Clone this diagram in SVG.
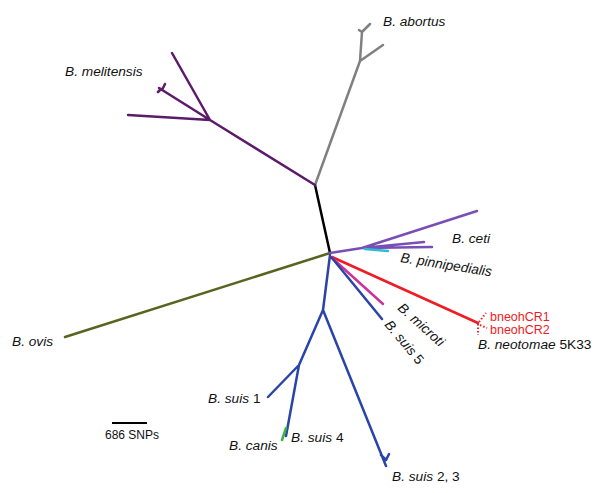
<svg xmlns="http://www.w3.org/2000/svg" width="600" height="493" viewBox="0 0 600 493">
<style>
.b{fill:none;stroke-width:2.5;stroke-linecap:round;stroke-linejoin:round}
.t{font-family:"Liberation Sans",Arial,sans-serif;font-size:13.7px;fill:#111}
.i{font-style:italic}
.r{fill:#ee1c24;font-size:12.5px}
</style>
<rect width="600" height="493" fill="#fff"/>
<g id="connectors">
<path class="b" stroke="#000" d="M315,185 L330,253"/>
<path class="b" stroke="#808080" d="M315,185 L360,61 L362,32 M360,61 L383,45 M362,32 L370,24 M362,32 L359,30"/>
<path class="b" stroke="#5c1a6b" d="M315,185 L210,120 L172,53 M210,120 L128,115 M210,120 L159,88 M162,90 L165,84 M161,89 L158,92"/>
<path class="b" stroke="#5a6420" d="M330,253 L65,337"/>
<path class="b" stroke="#7a4fb5" d="M330,253 L362,248 L477,211 M362,248 L424,242 M362,248 L432,247"/>
<path class="b" stroke="#2bbcd0" d="M365,249 L388,251"/>
<path class="b" stroke="#ee1c24" d="M332,257 L478,323"/>
<path fill="none" stroke="#ee1c24" stroke-width="2" stroke-dasharray="1.5,2" d="M479,322 L486,313 M478,324 L478,335 M480,325 L487,328"/>
<path class="b" stroke="#cc3399" d="M332,258 L383,304"/>
<path class="b" stroke="#2a44a8" d="M332,258 L382,319 M330,255 L323,310 L386,466 M381,455 L386,460 L389,454 M323,310 L299,365 L268,397 M299,365 L286,436"/>
<path class="b" stroke="#3cb43c" d="M286,428 L282,440"/>
<path stroke="#000" stroke-width="2" d="M112,423 L147,423"/>
</g>
<g id="labels">
<text class="t i" x="383" y="26">B. abortus</text>
<text class="t i" x="65" y="76">B. melitensis</text>
<text class="t i" x="452" y="243">B. ceti</text>
<text class="t i" transform="translate(400,262) rotate(9)">B. pinnipedialis</text>
<text class="t i" transform="translate(397,309) rotate(42)">B. microti</text>
<text class="t i" transform="translate(384,325) rotate(50)">B. suis <tspan font-style="normal">5</tspan></text>
<text class="t r" x="490" y="321">bneohCR1</text>
<text class="t r" x="490" y="333.5">bneohCR2</text>
<text class="t" x="478" y="349"><tspan class="i">B. neotomae</tspan> 5K33</text>
<text class="t i" x="12" y="346">B. ovis</text>
<text class="t" x="208" y="403"><tspan class="i">B. suis</tspan> 1</text>
<text class="t" x="291" y="442"><tspan class="i">B. suis</tspan> 4</text>
<text class="t i" x="229" y="450">B. canis</text>
<text class="t" x="392" y="481"><tspan class="i">B. suis</tspan> 2, 3</text>
<text class="t" x="105" y="439" style="font-size:12px">686 SNPs</text>
</g>
</svg>
